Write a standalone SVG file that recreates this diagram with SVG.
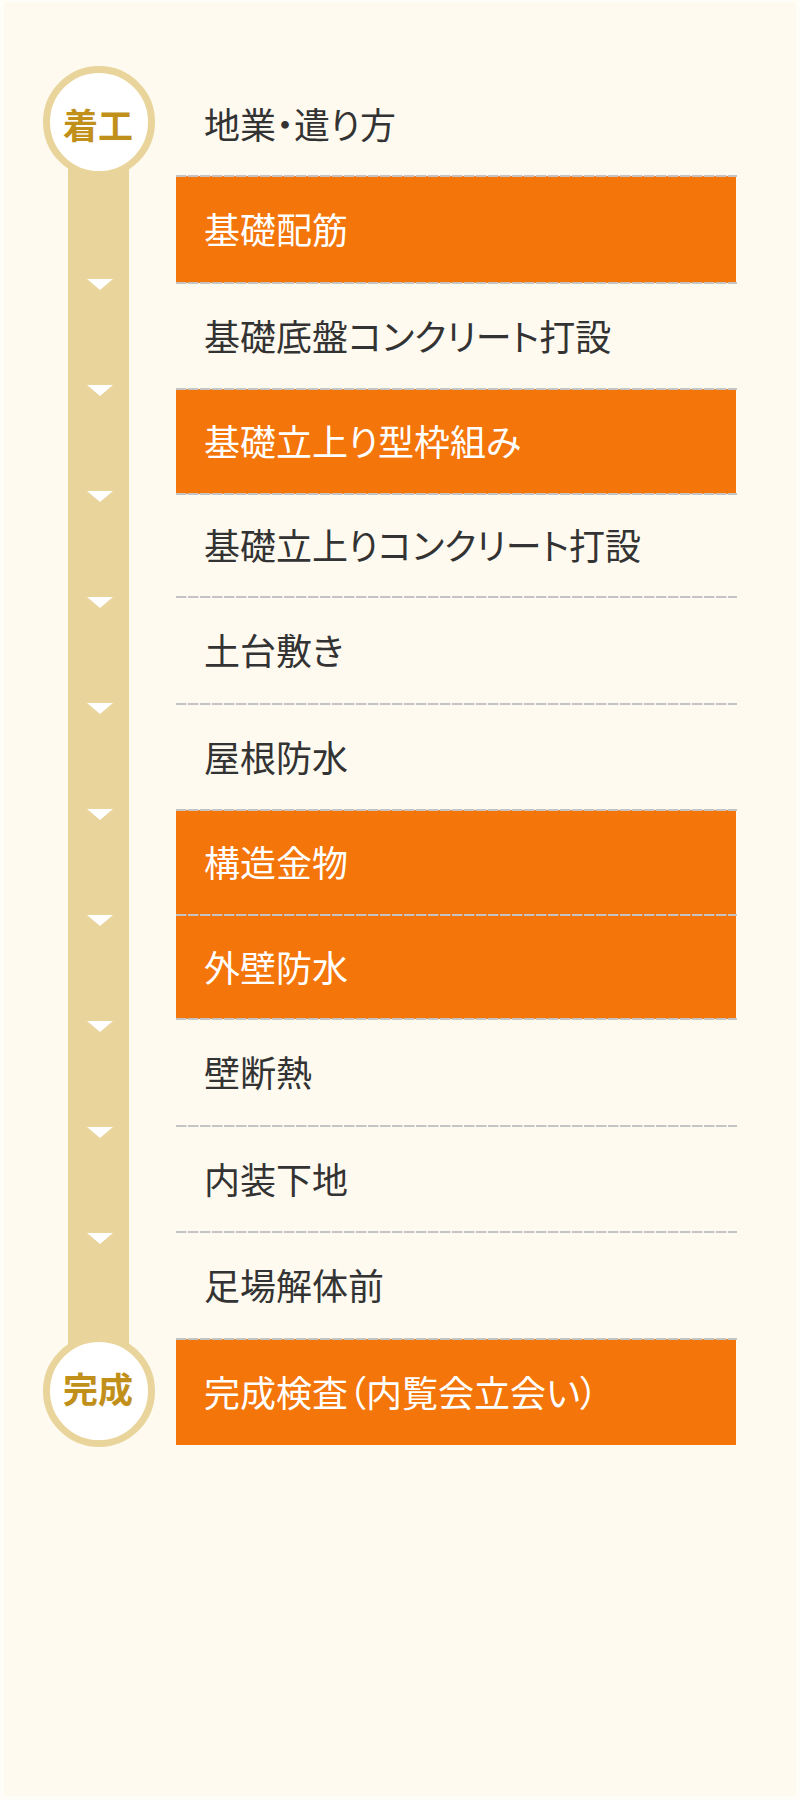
<svg xmlns="http://www.w3.org/2000/svg" xmlns:xlink="http://www.w3.org/1999/xlink" width="800" height="1800" viewBox="0 0 800 1800">
<style>
.t{font-family:"Noto Sans CJK JP","Noto Sans",sans-serif;font-size:36px;font-feature-settings:"palt" 1;}
.dark{fill:#333333;}
.light{fill:#FFFFFF;}
.box{fill:#F4750A;}
.sep{stroke:#C4C4C4;stroke-width:2;stroke-dasharray:10.5 1.5;fill:none;}
.ring{fill:#FFFFFF;stroke:#E9D49B;stroke-width:7;}
.lbl{font-family:"Noto Sans CJK JP","Noto Sans",sans-serif;font-size:35px;font-weight:bold;fill:#C1901B;}
.tri{fill:#FFFFFF;}
</style>
<defs>
<path id="arr" d="M87 0 L113 0 L100 11 Z"/>
</defs>
<rect x="0" y="0" width="800" height="1800" fill="#FFFDF8"/>
<rect x="4" y="2" width="792" height="1794" fill="#FEFAEF"/>

<g id="connectors">
<rect x="68" y="150" width="61" height="1210" fill="#E9D49B"/>
<use xlink:href="#arr" class="tri" y="279"/>
<use xlink:href="#arr" class="tri" y="385"/>
<use xlink:href="#arr" class="tri" y="491"/>
<use xlink:href="#arr" class="tri" y="597"/>
<use xlink:href="#arr" class="tri" y="703"/>
<use xlink:href="#arr" class="tri" y="809"/>
<use xlink:href="#arr" class="tri" y="915"/>
<use xlink:href="#arr" class="tri" y="1021"/>
<use xlink:href="#arr" class="tri" y="1127"/>
<use xlink:href="#arr" class="tri" y="1233"/>
</g>

<g id="start">
<circle cx="99" cy="122" r="52.5" class="ring"/>
<text x="98" y="139" class="lbl" text-anchor="middle">着工</text>
</g>
<g id="finish">
<circle cx="99" cy="1391" r="52.5" class="ring"/>
<text x="98" y="1403" class="lbl" text-anchor="middle">完成</text>
</g>

<g id="step0"><text x="204" y="139" class="t dark">地業・遣り方</text></g>
<g id="step1"><rect x="176" y="176" width="560" height="107" class="box"/><text x="204" y="244" class="t light">基礎配筋</text></g>
<g id="step2"><text x="204" y="350.5" class="t dark">基礎底盤コンクリート打設</text></g>
<g id="step3"><rect x="176" y="389" width="560" height="105" class="box"/><text x="204" y="456" class="t light">基礎立上り型枠組み</text></g>
<g id="step4"><text x="204" y="560" class="t dark">基礎立上りコンクリート打設</text></g>
<g id="step5"><text x="204" y="665" class="t dark">土台敷き</text></g>
<g id="step6"><text x="204" y="771.5" class="t dark">屋根防水</text></g>
<g id="step7"><rect x="176" y="810" width="560" height="105" class="box"/><text x="204" y="877" class="t light">構造金物</text></g>
<g id="step8"><rect x="176" y="915" width="560" height="104" class="box"/><text x="204" y="981.5" class="t light">外壁防水</text></g>
<g id="step9"><text x="204" y="1087" class="t dark">壁断熱</text></g>
<g id="step10"><text x="204" y="1193.5" class="t dark">内装下地</text></g>
<g id="step11"><text x="204" y="1300" class="t dark">足場解体前</text></g>
<g id="step12"><rect x="176" y="1339" width="560" height="106" class="box"/><text x="204" y="1406.5" class="t light">完成検査（内覧会立会い）</text></g>

<g id="separators">
<line x1="176" y1="176" x2="737" y2="176" class="sep"/>
<line x1="176" y1="283" x2="737" y2="283" class="sep"/>
<line x1="176" y1="389" x2="737" y2="389" class="sep"/>
<line x1="176" y1="494" x2="737" y2="494" class="sep"/>
<line x1="176" y1="597" x2="737" y2="597" class="sep"/>
<line x1="176" y1="704" x2="737" y2="704" class="sep"/>
<line x1="176" y1="810" x2="737" y2="810" class="sep"/>
<line x1="176" y1="915" x2="737" y2="915" class="sep"/>
<line x1="176" y1="1019" x2="737" y2="1019" class="sep"/>
<line x1="176" y1="1126" x2="737" y2="1126" class="sep"/>
<line x1="176" y1="1232" x2="737" y2="1232" class="sep"/>
<line x1="176" y1="1339" x2="737" y2="1339" class="sep"/>
</g>
</svg>
